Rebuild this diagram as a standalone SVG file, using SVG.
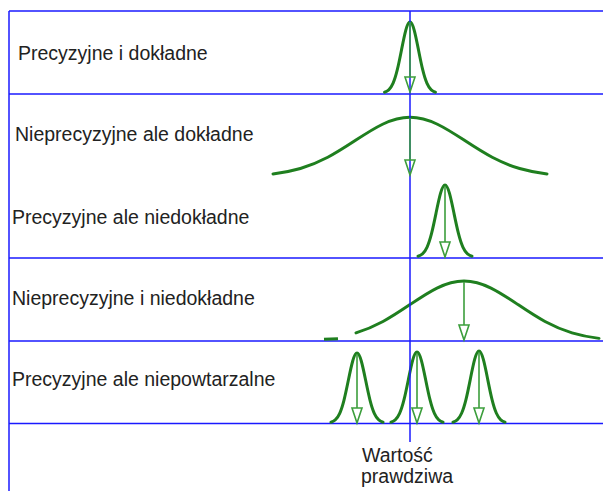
<svg xmlns="http://www.w3.org/2000/svg" xmlns:xlink="http://www.w3.org/1999/xlink" width="603" height="491" viewBox="0 0 603 491">
<style>
.grid{stroke:#1a1aff;stroke-width:1.5;fill:none}
.curve{stroke:#1f7f1f;stroke-width:3;fill:none;stroke-linecap:round;stroke-linejoin:round}
.g{vector-effect:non-scaling-stroke}
.arr{stroke:#3c9e3c;stroke-width:1.6;fill:none;marker-end:url(#head)}
.lbl{font-family:"Liberation Sans",Arial,sans-serif;font-size:19.5px;fill:#222}
</style>
<defs>
<marker id="head" markerUnits="userSpaceOnUse" markerWidth="20" markerHeight="14" refX="0" refY="0" orient="auto" viewBox="-1 -7 20 14" overflow="visible">
<path d="M0,-5 L15,0 L0,5 Z" fill="none" stroke="#3c9e3c" stroke-width="1.6" stroke-linejoin="miter"/>
</marker>
<path id="g3" class="g" vector-effect="non-scaling-stroke" d="M-300,-1.11 C-283.33,-1.67 -266.67,-2.56 -250,-4.39 C-233.33,-6.22 -216.67,-9.02 -200,-13.53 C-183.33,-18.04 -166.67,-24.35 -150,-32.47 C-133.33,-40.59 -116.67,-50.54 -100,-60.65 C-83.33,-70.76 -66.67,-80.9 -50,-88.25 C-33.33,-95.6 -16.67,-100 0,-100 C16.67,-100 33.33,-95.6 50,-88.25 C66.67,-80.9 83.33,-70.76 100,-60.65 C116.67,-50.54 133.33,-40.59 150,-32.47 C166.67,-24.35 183.33,-18.04 200,-13.53 C216.67,-9.02 233.33,-6.22 250,-4.39 C266.67,-2.56 283.33,-1.67 300,-1.11"/>
<path id="g25" class="g" vector-effect="non-scaling-stroke" d="M-250,-4.39 C-233.33,-6.22 -216.67,-9.02 -200,-13.53 C-183.33,-18.04 -166.67,-24.35 -150,-32.47 C-133.33,-40.59 -116.67,-50.54 -100,-60.65 C-83.33,-70.76 -66.67,-80.9 -50,-88.25 C-33.33,-95.6 -16.67,-100 0,-100 C16.67,-100 33.33,-95.6 50,-88.25 C66.67,-80.9 83.33,-70.76 100,-60.65 C116.67,-50.54 133.33,-40.59 150,-32.47 C166.67,-24.35 183.33,-18.04 200,-13.53 C216.67,-9.02 233.33,-6.22 250,-4.39"/>
<path id="g2r" class="g" vector-effect="non-scaling-stroke" d="M-200,-13.53 C-183.33,-18.04 -166.67,-24.35 -150,-32.47 C-133.33,-40.59 -116.67,-50.54 -100,-60.65 C-83.33,-70.76 -66.67,-80.9 -50,-88.25 C-33.33,-95.6 -16.67,-100 0,-100 C16.67,-100 33.33,-95.6 50,-88.25 C66.67,-80.9 83.33,-70.76 100,-60.65 C116.67,-50.54 133.33,-40.59 150,-32.47 C166.67,-24.35 183.33,-18.04 200,-13.53 C216.67,-9.02 233.33,-6.22 250,-4.39"/>
</defs>
<rect width="603" height="491" fill="#fff"/>

<g id="grid">
<line class="grid" x1="9" y1="11" x2="603" y2="11"/>
<line class="grid" x1="9" y1="11" x2="9" y2="491"/>
<line class="grid" x1="9" y1="94" x2="603" y2="94"/>
<line class="grid" x1="9" y1="258" x2="603" y2="258"/>
<line class="grid" x1="9" y1="341" x2="603" y2="341"/>
<line class="grid" x1="9" y1="423.5" x2="603" y2="423.5"/>
</g>

<g id="row1">
<text class="lbl" x="18" y="60">Precyzyjne i dokładne</text>
<use href="#g3" xlink:href="#g3" class="curve" transform="translate(410,93) scale(0.085,0.71)"/>
</g>
<g id="row2">
<text class="lbl" x="15" y="140.5">Nieprecyzyjne ale dokładne</text>
<use href="#g25" xlink:href="#g25" class="curve" transform="translate(410,176.5) scale(0.548,0.592)"/>
</g>
<g id="row3">
<text class="lbl" x="12" y="224">Precyzyjne ale niedokładne</text>
<use href="#g3" xlink:href="#g3" class="curve" transform="translate(445,257) scale(0.09,0.72)"/>
</g>
<g id="row4">
<text class="lbl" x="12" y="305">Nieprecyzyjne i niedokładne</text>
<line x1="324" y1="339.3" x2="338" y2="338.7" stroke="#1f7f1f" stroke-width="3"/>
<use href="#g2r" xlink:href="#g2r" class="curve" transform="translate(464,341) scale(0.54,0.60)"/>
</g>
<g id="row5">
<text class="lbl" x="12" y="386">Precyzyjne ale niepowtarzalne</text>
<use href="#g3" xlink:href="#g3" class="curve" transform="translate(357,423) scale(0.087,0.70)"/>
<use href="#g3" xlink:href="#g3" class="curve" transform="translate(417,423) scale(0.087,0.71)"/>
<use href="#g3" xlink:href="#g3" class="curve" transform="translate(479,423) scale(0.087,0.72)"/>
</g>

<g id="true-value">
<line class="grid" x1="410" y1="11" x2="410" y2="442"/>
<text class="lbl" x="362" y="462">Wartość</text>
<text class="lbl" x="361" y="483">prawdziwa</text>
</g>

<g id="connectors">
<line class="arr" x1="410" y1="22" x2="410" y2="77"/>
<line class="arr" x1="410" y1="118" x2="410" y2="160"/>
<line class="arr" x1="445" y1="186" x2="445" y2="242"/>
<line class="arr" x1="464" y1="282" x2="464" y2="325"/>
<line class="arr" x1="357" y1="354" x2="357" y2="408"/>
<line class="arr" x1="417" y1="353" x2="417" y2="408"/>
<line class="arr" x1="479" y1="352" x2="479" y2="408"/>
</g>
</svg>
